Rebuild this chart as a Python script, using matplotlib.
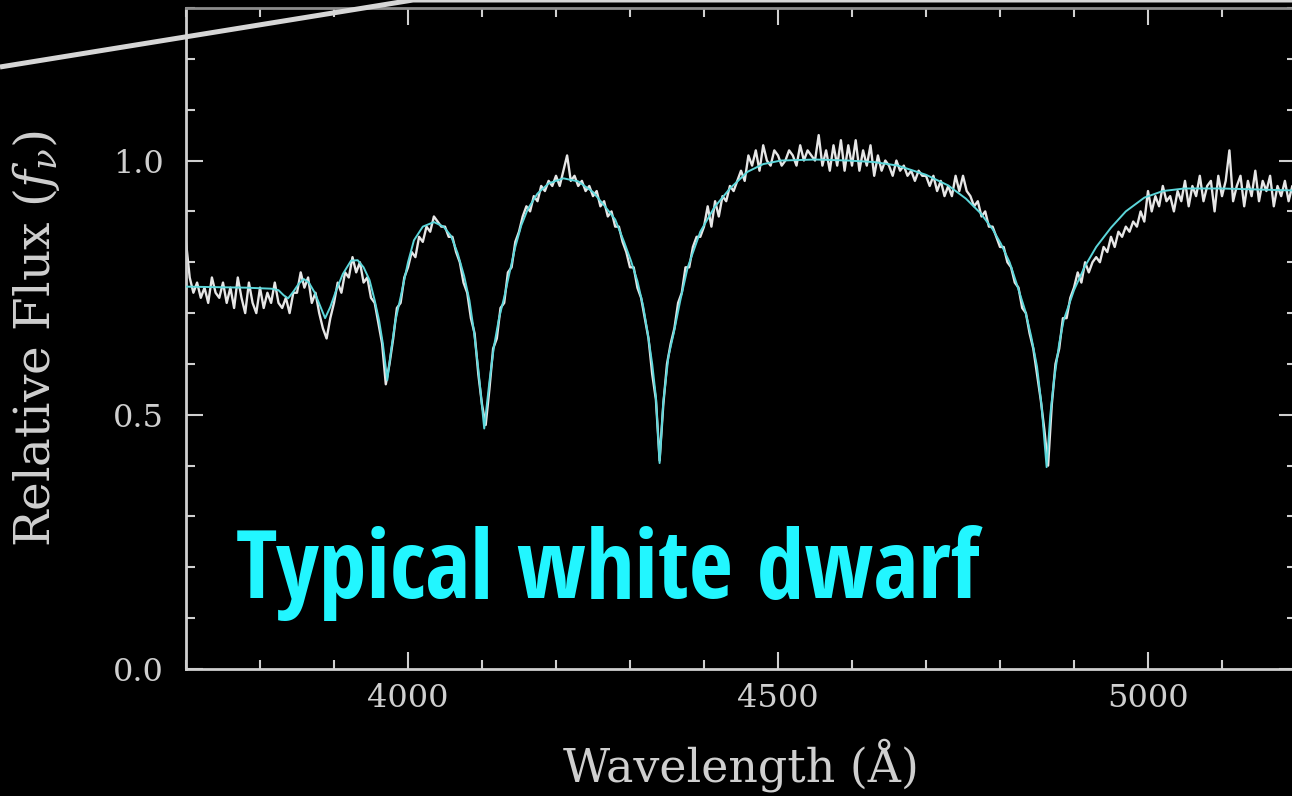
import numpy as np
import matplotlib
matplotlib.use("Agg")
import matplotlib.pyplot as plt
from matplotlib import font_manager
from matplotlib.lines import Line2D
from matplotlib.ticker import MultipleLocator

# Observed spectrum, sampled every 5 A from 3700 to 5200 A
obs_start, obs_step = 3700, 5
obs_flux = [
    0.84, 0.77, 0.74, 0.76, 0.73, 0.75, 0.72, 0.77, 0.74, 0.73,
    0.76, 0.72, 0.75, 0.71, 0.77, 0.73, 0.70, 0.76, 0.72, 0.70,
    0.75, 0.71, 0.74, 0.72, 0.76, 0.72, 0.71, 0.73, 0.70, 0.74,
    0.74, 0.78, 0.75, 0.77, 0.72, 0.74, 0.70, 0.67, 0.65, 0.69,
    0.72, 0.76, 0.74, 0.78, 0.77, 0.81, 0.78, 0.80, 0.76, 0.77,
    0.73, 0.72, 0.68, 0.64, 0.56, 0.60, 0.65, 0.71, 0.72, 0.77,
    0.79, 0.82, 0.81, 0.85, 0.84, 0.87, 0.86, 0.89, 0.88, 0.87,
    0.87, 0.85, 0.85, 0.82, 0.80, 0.76, 0.74, 0.69, 0.66, 0.58,
    0.52, 0.48, 0.55, 0.63, 0.65, 0.71, 0.72, 0.78, 0.79, 0.84,
    0.86, 0.89, 0.91, 0.90, 0.93, 0.92, 0.95, 0.94, 0.96, 0.95,
    0.97, 0.95, 0.98, 1.01, 0.96, 0.97, 0.95, 0.96, 0.94, 0.95,
    0.93, 0.94, 0.91, 0.92, 0.89, 0.90, 0.87, 0.87, 0.84, 0.82,
    0.79, 0.79, 0.75, 0.73, 0.69, 0.65, 0.58, 0.53, 0.41, 0.52,
    0.60, 0.64, 0.67, 0.72, 0.74, 0.79, 0.79, 0.83, 0.85, 0.85,
    0.87, 0.91, 0.87, 0.92, 0.89, 0.93, 0.92, 0.95, 0.94, 0.96,
    0.98, 0.96, 1.01, 0.99, 1.02, 0.98, 1.03, 1.00, 0.99, 1.02,
    1.01, 0.99, 1.00, 1.02, 1.01, 0.99, 1.03, 1.00, 1.02, 1.01,
    1.00, 1.05, 0.99, 1.02, 0.98, 1.03, 0.99, 1.04, 0.98, 1.03,
    0.99, 1.04, 0.98, 1.02, 0.99, 1.03, 0.97, 1.01, 0.98, 1.00,
    0.99, 0.97, 1.00, 0.98, 0.99, 0.97, 0.98, 0.96, 0.98, 0.97,
    0.97, 0.95, 0.97, 0.94, 0.96, 0.93, 0.95, 0.93, 0.97, 0.94,
    0.97, 0.94, 0.93, 0.91, 0.92, 0.89, 0.90, 0.87, 0.87, 0.85,
    0.83, 0.83, 0.80, 0.79, 0.76, 0.75, 0.71, 0.70, 0.66, 0.63,
    0.58, 0.53, 0.47, 0.40, 0.52, 0.60, 0.63, 0.69, 0.69, 0.73,
    0.75, 0.78, 0.76, 0.80, 0.78, 0.80, 0.81, 0.80, 0.83, 0.82,
    0.85, 0.83, 0.86, 0.85, 0.87, 0.86, 0.88, 0.87, 0.90, 0.88,
    0.94, 0.90, 0.93, 0.91, 0.95, 0.92, 0.93, 0.90, 0.94, 0.92,
    0.96, 0.91, 0.95, 0.93, 0.97, 0.92, 0.95, 0.96, 0.90, 0.97,
    0.93, 0.96, 1.02, 0.92, 0.95, 0.97, 0.91, 0.96, 0.93, 0.98,
    0.92, 0.96, 0.94, 0.97, 0.91, 0.95, 0.93, 0.96, 0.92, 0.95,
    0.93,
]
obs_wl = obs_start + obs_step * np.arange(len(obs_flux))

# Model atmosphere fit
model_wl = [
    3700, 3740, 3780, 3815, 3825, 3832, 3838, 3845, 3852, 3859,
    3866, 3874, 3881, 3888, 3895, 3903, 3912, 3923, 3932, 3940,
    3948, 3955, 3961, 3966, 3972, 3977, 3983, 3991, 4000, 4008,
    4020, 4035, 4048, 4058, 4067, 4076, 4083, 4089, 4095, 4103,
    4110, 4116, 4123, 4130, 4137, 4145, 4153, 4162, 4175, 4190,
    4210, 4230, 4250, 4265, 4280, 4292, 4301, 4310, 4318, 4324,
    4330, 4335, 4340, 4345, 4352, 4359, 4368, 4378, 4395, 4414,
    4435, 4459, 4480, 4504, 4550, 4595, 4630, 4662, 4700, 4730,
    4754, 4774, 4790, 4801, 4813, 4824, 4834, 4842, 4850, 4856,
    4863, 4868, 4873, 4880, 4886, 4900, 4914, 4930, 4950, 4970,
    4995, 5020, 5049, 5100, 5150, 5200,
]
model_flux = [
    0.752, 0.751, 0.750, 0.748, 0.745, 0.735, 0.729, 0.742, 0.757, 0.767,
    0.760, 0.740, 0.715, 0.690, 0.712, 0.745, 0.777, 0.803, 0.804, 0.790,
    0.765, 0.725, 0.685, 0.640, 0.568, 0.625, 0.685, 0.738, 0.800, 0.843,
    0.870, 0.879, 0.870, 0.852, 0.818, 0.772, 0.725, 0.665, 0.590, 0.473,
    0.565, 0.633, 0.690, 0.731, 0.778, 0.830, 0.872, 0.905, 0.935, 0.955,
    0.965, 0.959, 0.938, 0.912, 0.884, 0.840, 0.804, 0.763, 0.712, 0.660,
    0.600, 0.535, 0.405, 0.525, 0.615, 0.660, 0.725, 0.790, 0.860, 0.908,
    0.945, 0.978, 0.993, 1.000, 1.002, 1.000, 0.997, 0.990, 0.972, 0.951,
    0.925, 0.896, 0.865, 0.837, 0.800, 0.751, 0.705, 0.655, 0.595, 0.520,
    0.397, 0.500, 0.568, 0.640, 0.686, 0.745, 0.790, 0.830, 0.868, 0.900,
    0.927, 0.940, 0.945, 0.945, 0.943, 0.941,
]

FG = "#cfcfcf"


def pick_font(candidates, fallback="Open Sans"):
    have = {f.name for f in font_manager.fontManager.ttflist}
    for name in candidates:
        if name in have:
            return name
    return fallback


title_font = pick_font(["Open Sans Condensed", "Roboto Condensed",
                        "Liberation Sans Narrow", "Open Sans"])

plt.rcParams["font.family"] = "DejaVu Serif"
plt.rcParams["mathtext.fontset"] = "dejavuserif"

fig = plt.figure(figsize=(12.92, 7.96), dpi=100, facecolor="black")
ax = fig.add_axes([186 / 1292, 127 / 796, 1110 / 1292, 661 / 796])
ax.set_facecolor("black")

ax.plot(obs_wl, obs_flux, color="#e6e6e6", lw=1.7, zorder=2)
ax.plot(model_wl, model_flux, color="#5cd6da", lw=1.4, zorder=3)

ax.set_xlim(3700, 5200)
ax.set_ylim(0, 1.3)
ax.xaxis.set_major_locator(MultipleLocator(500))
ax.xaxis.set_minor_locator(MultipleLocator(100))
ax.yaxis.set_major_locator(MultipleLocator(0.5))
ax.yaxis.set_minor_locator(MultipleLocator(0.1))
ax.set_yticks([0, 0.5, 1.0])
ax.set_yticklabels(["0.0", "0.5", "1.0"])

ax.tick_params(which="both", direction="in", top=True, right=True,
               color=FG, width=1.5, labelcolor=FG, labelsize=23)
ax.tick_params(which="major", length=12)
ax.tick_params(which="minor", length=6.5)
ax.tick_params(axis="x", pad=10)
ax.tick_params(axis="y", pad=16)

for side, spine in ax.spines.items():
    spine.set_color(FG if side != "top" else "#8c8c8c")
    spine.set_linewidth(2)

ax.set_xlabel("Wavelength (Å)", color=FG, fontsize=33)
ax.xaxis.set_label_coords(0.5, -0.105)
ax.set_ylabel(r"Relative Flux ($f_\nu$)", color=FG, fontsize=35)
ax.yaxis.set_label_coords(-0.112, 0.5)

ax.text(3767, 0.139, "Typical white dwarf", color="#22f6ff", fontsize=69,
        fontweight="bold", family=title_font, ha="left", va="baseline")

# callout line running off the top-left corner
callout_x = [0, 413 / 1292, 1.0]
callout_y = [1 - 67 / 796, 1.0, 1.0]
fig.add_artist(Line2D(callout_x, callout_y, transform=fig.transFigure,
                      color="#d6d6d6", lw=3.6, solid_capstyle="butt"))

fig.savefig("out.png", dpi=100, facecolor="black")
